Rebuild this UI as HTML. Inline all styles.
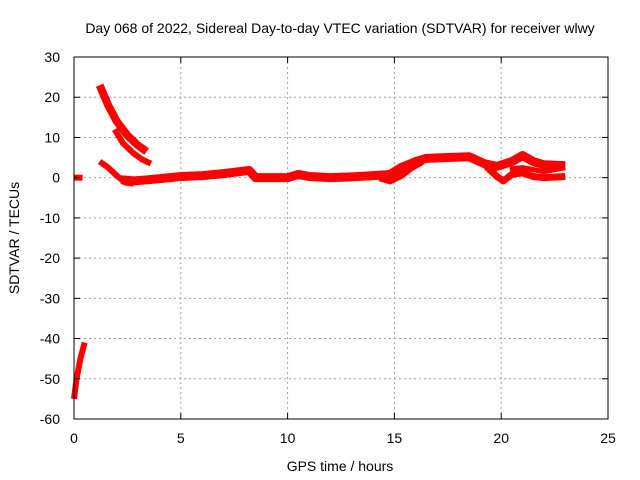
<!DOCTYPE html>
<html><head><meta charset="utf-8"><style>
body{margin:0;background:#fff}
svg{display:block;font-family:"Liberation Sans",sans-serif;font-size:14px}
</style></head><body>
<svg width="640" height="480" xmlns="http://www.w3.org/2000/svg">
<text x="340" y="33" text-anchor="middle">Day 068 of 2022, Sidereal Day-to-day VTEC variation (SDTVAR) for receiver wlwy</text>
<g id="grid"></g>
<g id="series"></g>
<rect x="74" y="57" width="534" height="362" fill="none" stroke="#000"/>
<g id="axes"></g>
<text x="340" y="471" text-anchor="middle">GPS time / hours</text>
<text transform="translate(19,238) rotate(-90)" text-anchor="middle">SDTVAR / TECUs</text>
</svg>
<script>
const xTicks=[0,5,10,15,20,25];
const yTicks=[30,20,10,0,-10,-20,-30,-40,-50,-60];
const sA_x=[0,0.4], sA_y=[0,0];
const sB_x=[0,0.12,0.3,0.5], sB_y=[-55,-50,-45,-41];
const sC_x=[1.2,1.6,2.0,2.5,3.0,3.4], sC_y=[23,18,14,10.5,8,6.5];
const sD_x=[1.9,2.3,2.8,3.2,3.6], sD_y=[12,8.5,6,4.5,3.5];
const sE_x=[1.2,1.6,2.0,2.4,2.8], sE_y=[4,2.5,0.5,-1.2,-1.5];
const sF_x=[2.2,2.8,3.5,4.5,5,6,7,8.2,8.5,9,10,10.5,11,12,13,14,14.8,15.3,16,16.5,17.5,18.5,19.2,19.8,20.5,21,21.5,22,23];
const sF_y=[-0.5,-0.8,-0.5,0,0.3,0.5,1,1.8,0,0,0,0.8,0.3,0,0.2,0.5,0.8,2.5,4,4.8,5,5.2,3.5,2.8,4,5.5,4,3.2,3];
const sG_x=[14.3,14.8,15.3,15.8,16.3], sG_y=[0,-0.8,0.5,2.5,4];
const sH_x=[19.3,19.8,20.1,20.5,21,21.5,22,23], sH_y=[2.8,0.3,-0.8,0.8,1.2,0.3,0,0.3];
const sI_x=[20.4,21,21.5,22,23], sI_y=[2.2,2.5,2,1.5,2.5];
const X=v=>74+v*(534/25), Y=v=>57+(30-v)*(362/90);
const NS="http://www.w3.org/2000/svg";
const grid=document.getElementById('grid'), axes=document.getElementById('axes'), ser=document.getElementById('series');
function mk(t,a,p){const e=document.createElementNS(NS,t);for(const k in a)e.setAttribute(k,a[k]);p.appendChild(e);return e;}
xTicks.forEach(t=>{
 if(t>0&&t<25){const l=mk('line',{x1:X(t),x2:X(t),y1:57,y2:419,stroke:'#a0a0a0','stroke-dasharray':'2,3'},grid);
 
 }
 mk('line',{x1:X(t),x2:X(t),y1:419,y2:413,stroke:'#000'},axes);
 mk('line',{x1:X(t),x2:X(t),y1:57,y2:63,stroke:'#000'},axes);
 const tx=mk('text',{x:X(t),y:443,'text-anchor':'middle'},axes);tx.textContent=t;
 
 
});
yTicks.forEach(t=>{
 if(t<30&&t>-60){const l=mk('line',{x1:74,x2:608,y1:Y(t),y2:Y(t),stroke:'#a0a0a0','stroke-dasharray':'2,3'},grid);
 
 }
 mk('line',{x1:74,x2:80,y1:Y(t),y2:Y(t),stroke:'#000'},axes);
 mk('line',{x1:608,x2:602,y1:Y(t),y2:Y(t),stroke:'#000'},axes);
 const tx=mk('text',{x:60,y:Y(t)+5,'text-anchor':'end'},axes);tx.textContent=t;
 
 
});
[[sA_x,sA_y,6],[sB_x,sB_y,6],[sC_x,sC_y,8],[sD_x,sD_y,6],[sE_x,sE_y,6],[sF_x,sF_y,9],[sG_x,sG_y,7],[sH_x,sH_y,7],[sI_x,sI_y,5]].forEach(([xs,ys,w])=>{
 const p=mk('polyline',{points:xs.map((v,i)=>X(v)+','+Y(ys[i])).join(' '),fill:'none',stroke:'#f00','stroke-width':w,'stroke-linejoin':'round'},ser);
 
 
});
</script>
</body></html>
